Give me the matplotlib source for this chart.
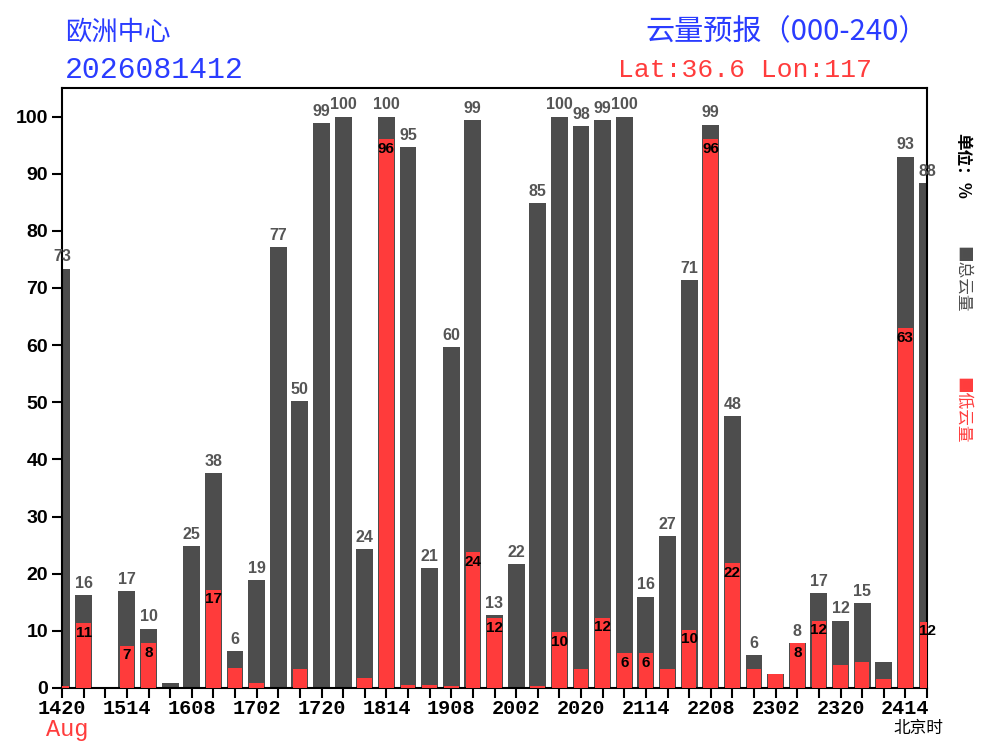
import matplotlib
matplotlib.use("Agg")
import matplotlib.pyplot as plt
import numpy as np

plt.rcParams['font.family'] = ['Noto Sans CJK SC', 'DejaVu Sans']

# ---- data ----
total_cloud = [73.4, 16.3, 0.0, 17.0, 10.4, 0.8, 24.9, 37.6, 6.5, 18.9,
               77.2, 50.2, 98.8, 100.0, 24.3, 100.0, 94.7, 21.0, 59.6, 99.4,
               12.8, 21.7, 84.8, 100.0, 98.4, 99.4, 100.0, 16.0, 26.6, 71.4,
               98.6, 47.6, 5.8, 2.5, 7.9, 16.6, 11.8, 14.8, 4.6, 93.0, 88.4]
low_cloud = [0.3, 11.3, 0.0, 7.4, 7.9, 0.0, 0.0, 17.2, 3.5, 0.9,
             0.0, 3.3, 0.0, 0.0, 1.8, 96.0, 0.5, 0.6, 0.3, 23.8,
             12.2, 0.0, 0.3, 9.8, 3.3, 12.3, 6.1, 6.1, 3.3, 10.2,
             96.0, 21.9, 3.3, 2.5, 7.9, 11.8, 4.0, 4.5, 1.5, 63.0, 11.6]
tick_labels = ['1420', '1514', '1608', '1702', '1720', '1814', '1908',
               '2002', '2020', '2114', '2208', '2302', '2320', '2414']
title_left1 = '欧洲中心'
title_left2 = '2026081412'
title_right1 = '云量预报（000-240）'
title_right2 = 'Lat:36.6 Lon:117'

GREY = '#4d4d4d'
RED = '#ff3b3b'
BLUE = '#2a3cff'
TXT_RED = '#ff3c3c'
MONO = ['Liberation Mono', 'DejaVu Sans Mono']
SANS = ['Liberation Sans', 'DejaVu Sans']

fig = plt.figure(figsize=(10, 7.5), dpi=100)
ax = fig.add_axes([0.062, 0.0827, 0.865, 0.8])

x = np.arange(len(total_cloud))
ax.bar(x, total_cloud, width=0.78, color=GREY, zorder=2)
ax.bar(x, low_cloud, width=0.68, color=RED, zorder=3)

for xi, v in zip(x, total_cloud):
    if v >= 5:
        ax.annotate(f'{int(round(v))}', (xi, v), xytext=(0, 3), textcoords='offset points',
                    ha='center', va='bottom', fontsize=11.5, fontweight='bold',
                    color='#555555', family=SANS, annotation_clip=False, zorder=5)
for xi, v in zip(x, low_cloud):
    if v >= 5:
        ax.annotate(f'{int(round(v))}', (xi, v), xytext=(0, -2), textcoords='offset points',
                    ha='center', va='top', fontsize=11, fontweight='bold',
                    color='black', family=SANS, annotation_clip=False, zorder=5)

ax.set_xlim(0, len(total_cloud) - 1)
ax.set_ylim(0, 105)
ax.set_xticks(x)
labels = [''] * len(x)
for i, lab in enumerate(tick_labels):
    labels[i * 3] = lab
ax.set_xticklabels(labels, fontsize=14.5, fontweight='bold', family=MONO)
ax.set_yticks(np.arange(0, 101, 10))
ax.set_yticklabels([str(v) for v in range(0, 101, 10)], fontsize=14, fontweight='bold',
                   family=SANS)
ax.tick_params(axis='x', direction='out', length=7, width=1.5, pad=1)
ax.tick_params(axis='y', direction='out', length=7, width=1.5, pad=3)
for s in ax.spines.values():
    s.set_linewidth(1.5)

# titles
fig.text(0.065, 0.957, title_left1, fontsize=19, color=BLUE, ha='left', va='center')
fig.text(0.065, 0.907, title_left2, fontsize=21.5, color=BLUE, ha='left', va='center',
         family=MONO)
fig.text(0.928, 0.957, title_right1, fontsize=21, color=BLUE, ha='right', va='center')
fig.text(0.872, 0.907, title_right2, fontsize=19, color=TXT_RED, ha='right', va='center',
         family=MONO)
fig.text(0.046, 0.0187, 'Aug', fontsize=17, color=TXT_RED, ha='left', va='baseline',
         family=MONO)
fig.text(0.918, 0.029, '北京时', fontsize=12, color='black', ha='center', va='center')

# right side legend / units
fig.text(0.962, 0.823, '单位：%', fontsize=12, color='black', ha='center', va='top',
         rotation=-90, fontweight='bold')
fig.text(0.962, 0.672, '■总云量', fontsize=12, color=GREY, ha='center', va='top',
         rotation=-90)
fig.text(0.962, 0.497, '■低云量', fontsize=12, color=TXT_RED, ha='center', va='top',
         rotation=-90)

fig.savefig('out.png', dpi=100)
